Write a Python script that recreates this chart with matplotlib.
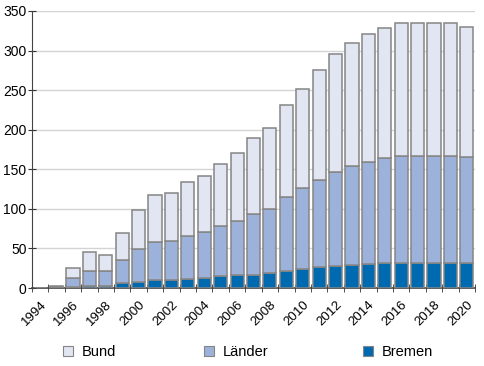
import matplotlib.pyplot as plt
import matplotlib.patches as mpatches
import numpy as np

plt.rcParams['font.family'] = ['Liberation Sans', 'DejaVu Sans']

years = list(range(1994, 2021))
bremen = [0, 0, 1, 3, 3, 6, 8, 10, 10, 12, 13, 15, 16, 17, 19, 21, 24, 26, 28, 29, 30, 31, 31, 31, 31, 31, 31]
laender = [0, 1, 12, 19, 18, 29, 41, 48, 50, 54, 58, 63, 69, 77, 81, 94, 102, 111, 119, 125, 129, 133, 136, 136, 136, 136, 134]
bund = [0, 2, 12, 24, 21, 35, 49, 59, 60, 68, 71, 79, 85, 96, 102, 116, 126, 138, 149, 155, 162, 165, 168, 168, 168, 168, 165]

c_bremen = '#006ab1'
c_laender = '#9db2da'
c_bund = '#e1e6f2'
edge = '#858585'

fig = plt.figure(figsize=(4.85, 3.66), dpi=100)
ax = fig.add_axes([32 / 485, 1 - 288 / 366, 443 / 485, 277 / 366])

x = np.arange(len(years))
b = np.array(bremen)
l = np.array(laender)
u = np.array(bund)
kw = dict(width=0.8, edgecolor=edge, linewidth=1.1, zorder=3)
ax.bar(x, b, color=c_bremen, **kw)
ax.bar(x, l, bottom=b, color=c_laender, **kw)
ax.bar(x, u, bottom=b + l, color=c_bund, **kw)

ax.set_xlim(-0.5, len(years) - 0.5)
ax.set_ylim(0, 350)
ax.set_yticks(range(0, 351, 50))
ax.yaxis.grid(True, color='#d4d4d4', linewidth=1)
ax.set_axisbelow(True)

# labels every other year, tick marks at slot boundaries
ax.set_xticks(x[::2])
ax.set_xticklabels([str(y) for y in years[::2]], rotation=45, ha='right',
                   rotation_mode='anchor')
ax.set_xticks(np.arange(-0.5, len(years), 1), minor=True)
ax.tick_params(axis='x', which='major', length=0, pad=8, labelsize=9.5)
ax.tick_params(axis='x', which='minor', direction='inout', length=6, color='#333333')
ax.tick_params(axis='y', direction='inout', length=6, color='#333333', labelsize=10, pad=1)

for s in ['top', 'right']:
    ax.spines[s].set_visible(False)
ax.spines['left'].set_color('#444444')
ax.spines['bottom'].set_color('#444444')
ax.spines['bottom'].set_linewidth(1.2)

# legend entries placed individually
items = [('Bund', c_bund, 62), ('Länder', c_laender, 203), ('Bremen', c_bremen, 362)]
for name, col, px in items:
    h = mpatches.Patch(facecolor=col, edgecolor=edge, linewidth=0.8)
    fig.legend([h], [name], loc='center left', bbox_to_anchor=(px / 485 - 0.026, 1 - 352 / 366),
               frameon=False, fontsize=10.5, handlelength=0.75, handleheight=0.75, handletextpad=0.55)

fig.savefig('out.png', dpi=100)
